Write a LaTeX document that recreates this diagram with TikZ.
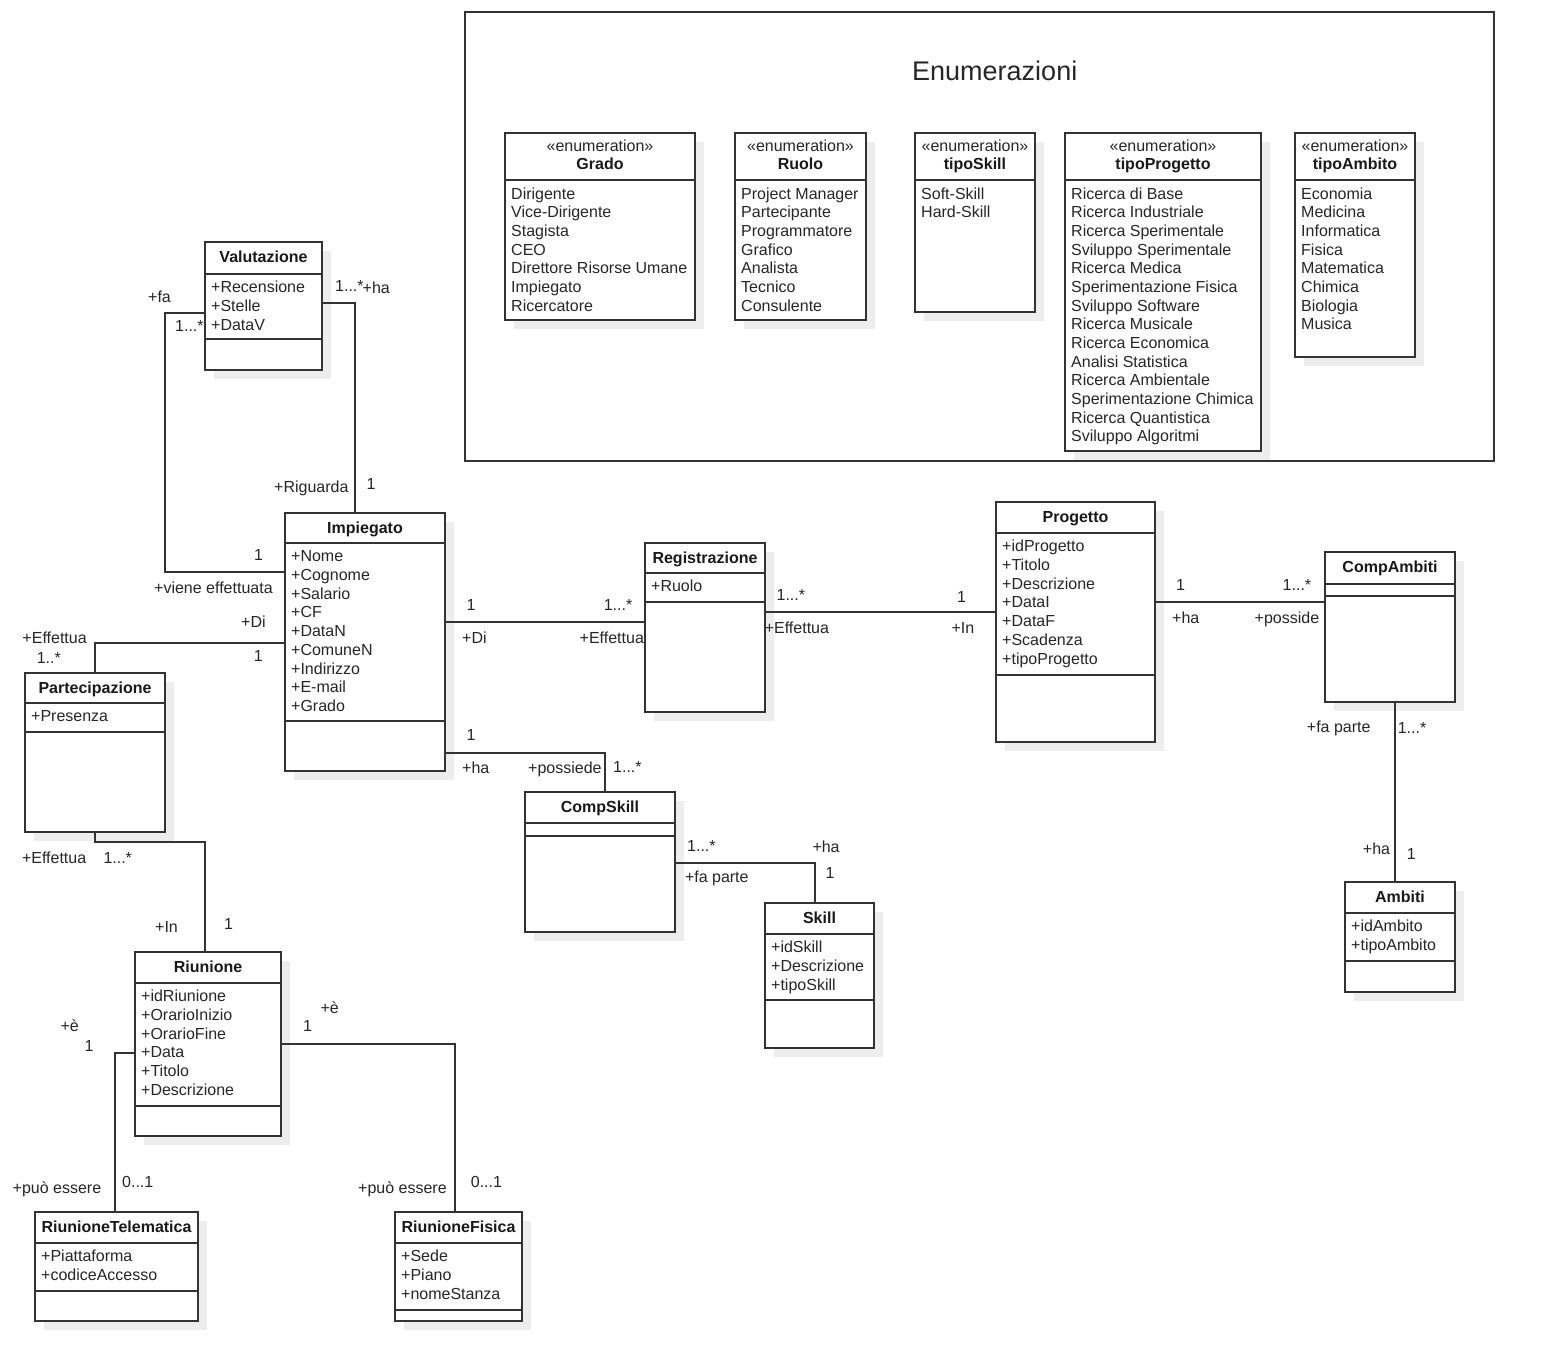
\documentclass[tikz,border=0pt]{standalone}
\usepackage{fontspec}
\setmainfont{Liberation Sans}
\tikzset{
  boxline/.style={draw=black!80, line width=1.2pt},
  classbox/.style={rectangle, draw=black!80, line width=1.2pt, fill=white, inner sep=0pt, outer sep=0pt},
  conn/.style={draw=black!80, line width=1.2pt},
  shadowc/.style={fill=black!7},
  titletext/.style={font=\fontsize{16}{18.7}\selectfont\bfseries, text=black!90, inner sep=0pt},
  attrtext/.style={font=\fontsize{16}{18.7}\selectfont, text=black!85, inner sep=0pt},
  lbl/.style={font=\fontsize{16}{18.7}\selectfont, text=black!85, inner sep=0pt, anchor=base west},
}
% #1 name, #2 left, #3 top, #4 right, #5 bottom, #6 header line, #7 attr line, #8 title, #9 attributes
\newcommand{\umlclass}[9]{%
  \fill[shadowc] ({#2+9},{#3+9}) rectangle ({#4+9},{#5+9});
  \node[classbox, minimum width={(#4-#2)*1pt}, minimum height={(#5-#3)*1pt}, anchor=north west] (#1) at (#2,#3) {};
  \draw[boxline] (#2,#6) -- (#4,#6);
  \draw[boxline] (#2,#7) -- (#4,#7);
  \node[titletext, anchor=base] (#1-t) at ({(#2+#4)/2},{#3+20}) {#8};
  \if\relax\detokenize{#9}\relax\else
  \foreach \attr [count=\k] in {#9} {\node[attrtext, anchor=base west] at ({#2+6},{#6+18.8+(\k-1)*18.7}) {\attr};}
  \fi
}
% #1 name, #2 left, #3 top, #4 right, #5 bottom, #6 title, #7 items
\newcommand{\umlenum}[7]{%
  \fill[shadowc] ({#2+9},{#3+9}) rectangle ({#4+9},{#5+9});
  \node[classbox, minimum width={(#4-#2)*1pt}, minimum height={(#5-#3)*1pt}, anchor=north west] (#1) at (#2,#3) {};
  \draw[boxline] (#2,{#3+47}) -- (#4,{#3+47});
  \node[attrtext, anchor=base] (#1-s) at ({(#2+#4)/2},{#3+18}) {«enumeration»};
  \node[titletext, anchor=base] (#1-t) at ({(#2+#4)/2},{#3+36.5}) {#6};
  \foreach \attr [count=\k] in {#7} {\node[attrtext, anchor=base west] at ({#2+6},{#3+66+(\k-1)*18.67}) {\attr};}
}
\begin{document}
\begin{tikzpicture}[x=1pt,y=-1pt]
\useasboundingbox[fill=white] (0,0) rectangle (1543,1371);

% Enumerations frame
\node[classbox, minimum width=1029pt, minimum height=449pt, anchor=north west] (enumframe) at (465,12) {};
\node[font=\fontsize{27}{30}\selectfont, text=black!85, inner sep=0pt, anchor=base west] (enumtitle) at (912,80) {Enumerazioni};

\umlenum{grado}{505}{133}{695}{320}{Grado}{Dirigente,Vice-Dirigente,Stagista,CEO,Direttore Risorse Umane,Impiegato,Ricercatore}
\umlenum{ruolo}{735}{133}{866}{320}{Ruolo}{Project Manager,Partecipante,Programmatore,Grafico,Analista,Tecnico,Consulente}
\umlenum{tskill}{915}{133}{1035}{312}{tipoSkill}{Soft-Skill,Hard-Skill}
\umlenum{tprog}{1065}{133}{1261}{451}{tipoProgetto}{Ricerca di Base,Ricerca Industriale,Ricerca Sperimentale,Sviluppo Sperimentale,Ricerca Medica,Sperimentazione Fisica,Sviluppo Software,Ricerca Musicale,Ricerca Economica,Analisi Statistica,Ricerca Ambientale,Sperimentazione Chimica,Ricerca Quantistica,Sviluppo Algoritmi}
\umlenum{tamb}{1295}{133}{1415}{357}{tipoAmbito}{Economia,Medicina,Informatica,Fisica,Matematica,Chimica,Biologia,Musica}

% Classes
\umlclass{val}{205}{242}{322}{370}{274}{339}{Valutazione}{+Recensione,+Stelle,+DataV}
\umlclass{imp}{285}{513}{445}{771}{543}{721}{Impiegato}{+Nome,+Cognome,+Salario,+CF,+DataN,+ComuneN,+Indirizzo,+E-mail,+Grado}
\umlclass{part}{25}{673}{165}{832}{703}{732}{Partecipazione}{+Presenza}
\umlclass{reg}{645}{543}{765}{712}{573}{602}{Registrazione}{+Ruolo}
\umlclass{prog}{996}{502}{1155}{742}{533}{675}{Progetto}{+idProgetto,+Titolo,+Descrizione,+DataI,+DataF,+Scadenza,+tipoProgetto}
\umlclass{camb}{1325}{552}{1455}{702}{584}{596}{CompAmbiti}{}
\umlclass{amb}{1345}{882}{1455}{992}{913}{961}{Ambiti}{+idAmbito,+tipoAmbito}
\umlclass{cskill}{525}{792}{675}{932}{823}{836}{CompSkill}{}
\umlclass{skill}{765}{903}{874}{1048}{934}{1000}{Skill}{+idSkill,+Descrizione,+tipoSkill}
\umlclass{riun}{135}{952}{281}{1136}{983}{1106}{Riunione}{+idRiunione,+OrarioInizio,+OrarioFine,+Data,+Titolo,+Descrizione}
\umlclass{rt}{35}{1212}{198}{1321}{1243}{1291}{RiunioneTelematica}{+Piattaforma,+codiceAccesso}
\umlclass{rf}{395}{1212}{522}{1321}{1243}{1310}{RiunioneFisica}{+Sede,+Piano,+nomeStanza}

% Connectors
\draw[conn] (val.west |- 0,313) -| (165,572) -- (imp.west |- 0,572);
\draw[conn] (val.east |- 0,303) -| (imp.north -| 355,0);
\draw[conn] (imp.west |- 0,643) -| (part.north -| 95,0);
\draw[conn] (imp.east |- 0,622) -- (reg.west |- 0,622);
\draw[conn] (imp.east |- 0,753) -| (cskill.north -| 605,0);
\draw[conn] (reg.east |- 0,612) -- (prog.west |- 0,612);
\draw[conn] (prog.east |- 0,602) -- (camb.west |- 0,602);
\draw[conn] (camb.south -| 1395,0) -- (amb.north -| 1395,0);
\draw[conn] (cskill.east |- 0,863) -| (skill.north -| 815,0);
\draw[conn] (part.south -| 95,0) -- (95,842) -| (riun.north -| 205,0);
\draw[conn] (riun.west |- 0,1053) -| (rt.north -| 115,0);
\draw[conn] (riun.east |- 0,1044) -| (rf.north -| 455,0);

% Labels
\node[lbl] (l1) at (148,302.7) {+fa};
\node[lbl] (l2) at (175,331.7) {1...*};
\node[lbl] (l3) at (335,291.7) {1...*};
\node[lbl] (l4) at (362.5,293.3) {+ha};
\node[lbl] (l5) at (274,492.7) {+Riguarda};
\node[lbl] (l6) at (366.5,489) {1};
\node[lbl] (l7) at (254,560.7) {1};
\node[lbl] (l8) at (154,593.3) {+viene effettuata};
\node[lbl] (l9) at (22.3,643.3) {+Effettua};
\node[lbl] (l10) at (36.6,663.3) {1..*};
\node[lbl] (l11) at (241,627.7) {+Di};
\node[lbl] (l12) at (253.6,661.7) {1};
\node[lbl] (l13) at (466.5,610.7) {1};
\node[lbl] (l14) at (603.6,610.7) {1...*};
\node[lbl] (l15) at (462,643.3) {+Di};
\node[lbl] (l16) at (579.5,643.3) {+Effettua};
\node[lbl] (l17) at (466.5,740.7) {1};
\node[lbl] (l18) at (462,773.3) {+ha};
\node[lbl] (l19) at (528,773.3) {+possiede};
\node[lbl] (l20) at (613,772.3) {1...*};
\node[lbl] (l21) at (776.4,600) {1...*};
\node[lbl] (l22) at (764.6,633.3) {+Effettua};
\node[lbl] (l23) at (957,602.7) {1};
\node[lbl] (l24) at (951.4,633.3) {+In};
\node[lbl] (l25) at (1176,590.7) {1};
\node[lbl] (l26) at (1282.5,590.7) {1...*};
\node[lbl] (l27) at (1172,623.3) {+ha};
\node[lbl] (l28) at (1254.5,623.3) {+posside};
\node[lbl] (l29) at (1306.7,732.7) {+fa parte};
\node[lbl] (l30) at (1397.6,733.3) {1...*};
\node[lbl] (l31) at (1362.7,854) {+ha};
\node[lbl] (l32) at (1406.7,859) {1};
\node[lbl] (l33) at (21.8,863.3) {+Effettua};
\node[lbl] (l34) at (103.3,863.3) {1...*};
\node[lbl] (l35) at (155,932.7) {+In};
\node[lbl] (l36) at (224,929) {1};
\node[lbl] (l37) at (687,851) {1...*};
\node[lbl] (l38) at (684.8,882.7) {+fa parte};
\node[lbl] (l39) at (812.3,852.7) {+ha};
\node[lbl] (l40) at (825.5,878.3) {1};
\node[lbl] (l41) at (320.3,1013.3) {+è};
\node[lbl] (l42) at (303,1031.7) {1};
\node[lbl] (l43) at (60.3,1031) {+è};
\node[lbl] (l44) at (84.4,1051.7) {1};
\node[lbl] (l45) at (12.5,1193.3) {+può essere};
\node[lbl] (l46) at (122,1187.7) {0...1};
\node[lbl] (l47) at (358,1193.3) {+può essere};
\node[lbl] (l48) at (470.7,1187.7) {0...1};
\end{tikzpicture}
\end{document}
